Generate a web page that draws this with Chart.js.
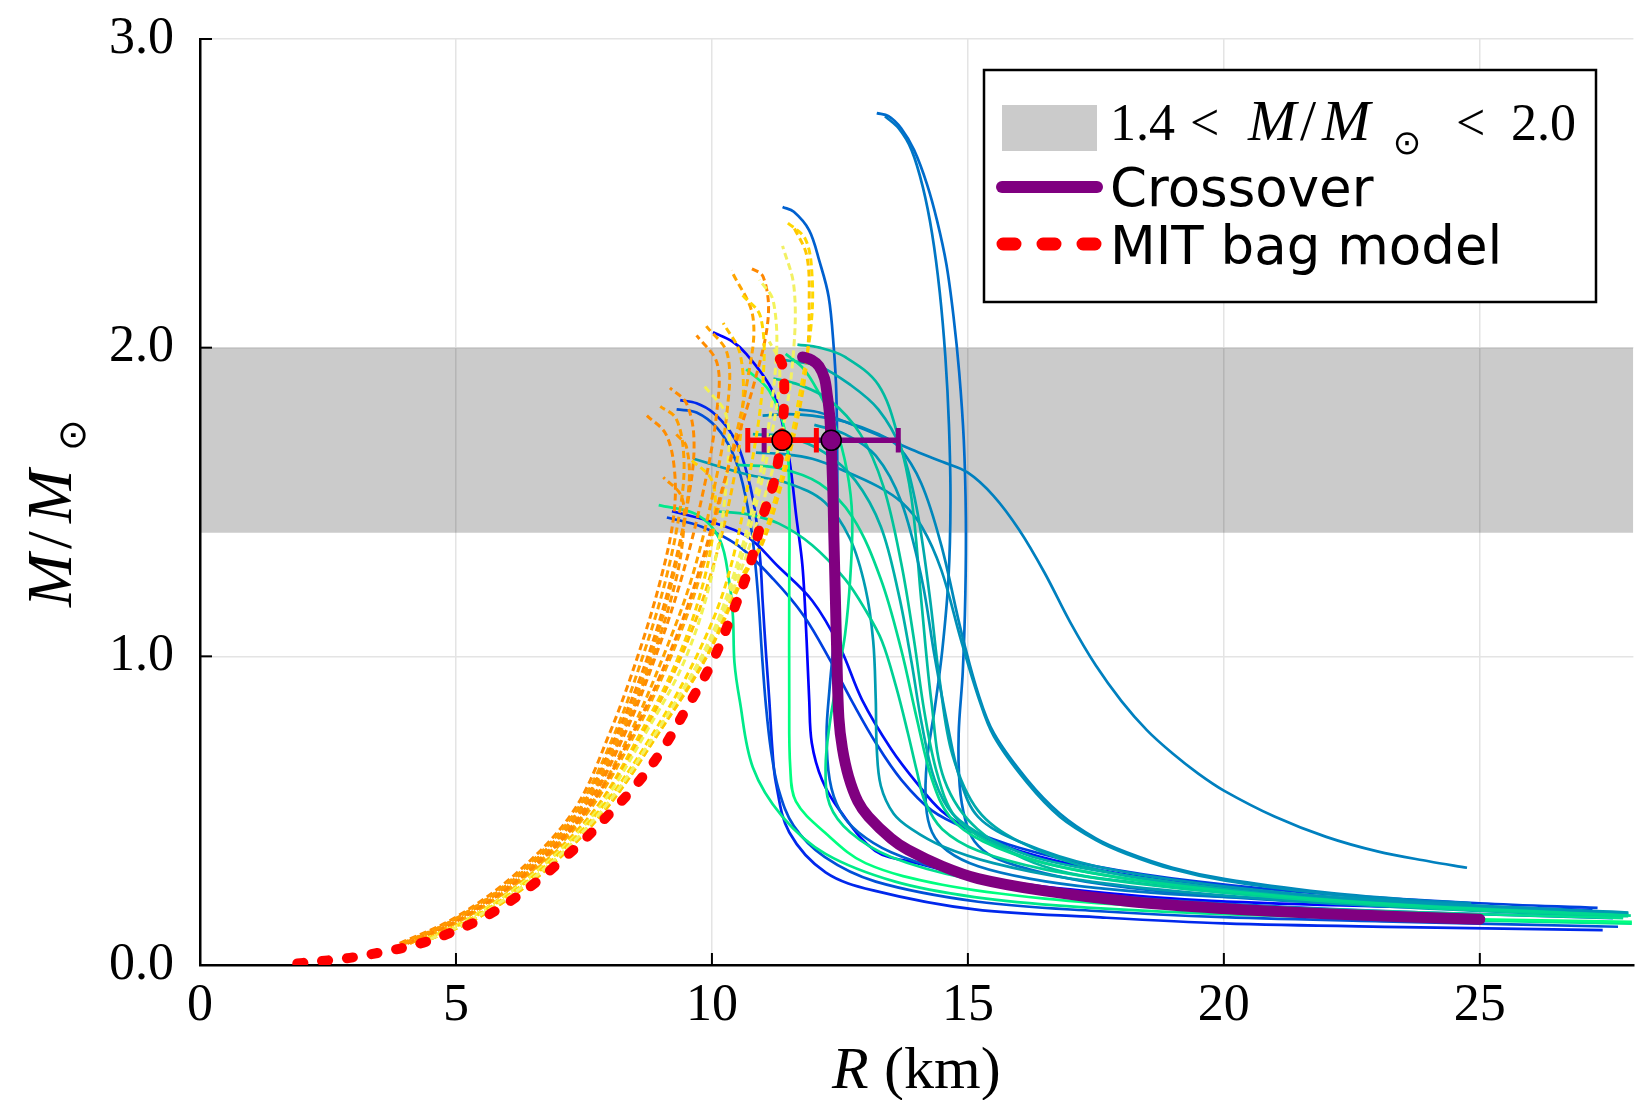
<!DOCTYPE html>
<html>
<head>
<meta charset="utf-8">
<script src="https://cdn.jsdelivr.net/npm/chart.js@4.4.0/dist/chart.umd.min.js"></script>
<style>
  html, body { margin: 0; padding: 0; background: #fff; }
</style>
</head>
<body>
<canvas id="mrChart" width="1645" height="1100"></canvas>
<script>
// axes
const xTicks = [0, 5, 10, 15, 20, 25];
const yTicks = [0, 1, 2, 3];
const yTickLabels = ['0.0', '1.0', '2.0', '3.0'];
const xMax = 28, yMax = 3;

// observational band
const bandLow = 1.4, bandHigh = 2.0;

// measured points [R, M, R error]
const mitPoint = [11.37, 1.70, 0.67];
const crossPoint = [12.33, 1.70, 1.31];

// crossover EoS
const crossover = [[11.77,1.97],[11.95,1.96],[12.09,1.94],[12.2,1.9],[12.25,1.85],[12.3,1.78],[12.32,1.72],[12.36,1.55],[12.38,1.4],[12.41,1.2],[12.44,1.0],[12.48,0.8],[12.55,0.7],[12.67,0.61],[12.85,0.53],[13.06,0.48],[13.5,0.41],[13.83,0.373],[14.5,0.32],[15.2,0.28],[16.5,0.24],[18.2,0.205],[20.0,0.183],[22.0,0.166],[25.0,0.148]];

// MIT bag model
const mitBag = [[1.9,0.005],[2.5,0.015],[3.0,0.025],[3.5,0.04],[4.0,0.057],[4.5,0.08],[5.0,0.112],[5.5,0.15],[6.0,0.2],[6.5,0.26],[7.0,0.33],[7.5,0.405],[8.0,0.49],[8.5,0.58],[9.0,0.69],[9.5,0.83],[10.0,0.98],[10.4,1.14],[10.73,1.29],[10.99,1.45],[11.22,1.57],[11.35,1.7],[11.41,1.83],[11.38,1.94],[11.25,1.98],[11.06,2.0]];

// solid family (blue -> green)
const solid01 = [[10.02,2.05],[10.4,2.02],[10.67,1.98],[11.12,1.88],[11.31,1.8],[11.51,1.64],[11.65,1.45],[11.77,1.29],[11.85,1.05],[11.9,0.86],[11.95,0.72],[12.15,0.6],[12.5,0.5],[13.19,0.37],[14.0,0.33],[15.13,0.286],[17,0.245],[19.5,0.21],[23,0.19],[26.96,0.176]];
const solid02 = [[9.22,1.47],[9.9,1.44],[10.67,1.39],[11.3,1.29],[11.96,1.18],[12.5,1.03],[12.93,0.86],[13.5,0.7],[14.0,0.59],[14.48,0.5],[15.13,0.43],[16.0,0.37],[17.5,0.31],[19.5,0.26],[22,0.22],[25,0.19],[27.2,0.178]];
const solid03 = [[9.38,1.83],[9.7,1.82],[10.02,1.79],[10.35,1.73],[10.54,1.67],[10.75,1.55],[10.86,1.45],[10.95,1.3],[10.99,1.18],[11.06,1.0],[11.12,0.86],[11.18,0.7],[11.25,0.59],[11.51,0.43],[12.22,0.3],[13.19,0.24],[15.13,0.18],[17.5,0.155],[20,0.135],[23.5,0.123],[27.4,0.113]];
const solid04 = [[9.12,1.45],[9.8,1.42],[10.5,1.36],[11.2,1.25],[11.8,1.13],[12.3,0.99],[12.75,0.85],[13.2,0.72],[13.7,0.6],[14.3,0.5],[15.0,0.44],[16.0,0.38],[17.5,0.32],[19.5,0.27],[22,0.23],[25,0.2],[27.3,0.185]];
const solid05 = [[9.31,1.8],[9.7,1.79],[10.1,1.74],[10.4,1.66],[10.6,1.56],[10.78,1.4],[10.9,1.2],[10.98,1.0],[11.05,0.85],[11.15,0.7],[11.3,0.57],[11.6,0.45],[12.2,0.35],[13.2,0.27],[15.2,0.205],[17.5,0.175],[20,0.155],[23.5,0.14],[27.7,0.124]];
const solid06 = [[11.38,2.456],[11.6,2.44],[11.9,2.38],[12.1,2.28],[12.28,2.165],[12.38,2.0],[12.43,1.85],[12.45,1.57],[12.44,1.25],[12.38,1.05],[12.3,0.9],[12.24,0.75],[12.3,0.6],[12.5,0.5],[12.86,0.43],[13.5,0.365],[14.5,0.31],[16,0.26],[18,0.222],[21,0.19],[24,0.17],[27.6,0.152]];
const solid07 = [[13.22,2.76],[13.45,2.75],[13.7,2.71],[13.95,2.64],[14.2,2.53],[14.4,2.41],[14.58,2.27],[14.72,2.1],[14.83,1.92],[14.92,1.7],[14.96,1.45],[14.95,1.2],[14.9,0.95],[14.82,0.75],[14.84,0.58],[14.95,0.47],[15.13,0.4],[15.5,0.35],[16.2,0.31],[17.3,0.27],[19,0.235],[21,0.21],[23.5,0.192],[26.9,0.175]];
const solid08 = [[13.38,2.75],[13.65,2.71],[13.9,2.64],[14.12,2.52],[14.3,2.37],[14.45,2.18],[14.56,1.97],[14.63,1.75],[14.66,1.5],[14.62,1.25],[14.5,1.02],[14.36,0.84],[14.2,0.66],[14.18,0.52],[14.3,0.43],[14.6,0.37],[15.2,0.32],[16.2,0.28],[17.5,0.25],[19.5,0.225],[22,0.21],[24.83,0.197]];
const solid09 = [[11.7,1.8],[12.1,1.79],[12.6,1.76],[13.2,1.72],[13.9,1.67],[14.5,1.63],[15.0,1.595],[15.5,1.52],[16.0,1.41],[16.5,1.27],[17.0,1.11],[17.5,0.97],[18.0,0.855],[18.5,0.76],[19.0,0.685],[19.5,0.62],[20.0,0.565],[21.0,0.48],[22.0,0.415],[23.0,0.368],[24.0,0.336],[24.75,0.315]];
const solid10 = [[10.99,1.78],[11.5,1.785],[11.96,1.78],[12.6,1.76],[13.25,1.72],[13.64,1.68],[14.09,1.56],[14.48,1.36],[14.87,1.08],[15.2,0.88],[15.51,0.75],[16.16,0.6],[16.8,0.49],[17.5,0.41],[18.1,0.365],[19,0.315],[20.03,0.278],[21.97,0.235],[23.5,0.213],[24.83,0.2]];
const solid11 = [[10.86,1.66],[11.4,1.655],[11.96,1.64],[12.6,1.6],[13.25,1.55],[13.7,1.5],[14.1,1.42],[14.48,1.28],[14.87,1.05],[15.2,0.87],[15.51,0.74],[16.16,0.59],[16.8,0.48],[17.5,0.405],[18.1,0.36],[19,0.31],[20.03,0.273],[21.97,0.231],[23.5,0.209],[24.83,0.196]];
const solid12 = [[9.64,1.64],[10.67,1.59],[11.5,1.56],[12.2,1.5],[12.7,1.38],[13.0,1.22],[13.15,1.05],[13.2,0.86],[13.22,0.7],[13.3,0.58],[13.55,0.49],[13.9,0.44],[14.5,0.385],[15.5,0.33],[17,0.28],[19,0.24],[22,0.2],[25,0.175],[27.8,0.155]];
const solid13 = [[11.41,1.96],[12.09,1.94],[12.7,1.88],[13.25,1.8],[13.7,1.67],[14.0,1.48],[14.25,1.2],[14.45,0.92],[14.7,0.68],[15.2,0.5],[16.0,0.4],[17.5,0.31],[20,0.245],[23,0.2],[27.9,0.165]];
const solid14 = [[11.67,2.01],[12.1,2.0],[12.6,1.97],[13.25,1.88],[13.64,1.71],[13.9,1.51],[14.09,1.18],[14.29,0.85],[14.54,0.6],[15.19,0.44],[16.48,0.32],[18.4,0.264],[21,0.22],[24,0.19],[27.8,0.16]];
const solid15 = [[10.09,1.47],[10.7,1.46],[11.31,1.43],[11.96,1.36],[12.6,1.25],[13.0,1.15],[13.32,1.05],[13.6,0.9],[13.83,0.75],[14.0,0.63],[14.16,0.53],[14.5,0.44],[15.2,0.37],[16.5,0.31],[18.5,0.26],[21,0.22],[24,0.185],[27.9,0.158]];
const solid16 = [[11.44,1.98],[11.8,1.93],[12.1,1.85],[12.4,1.75],[12.64,1.6],[12.74,1.45],[12.7,1.25],[12.6,1.07],[12.45,0.93],[12.3,0.78],[12.22,0.64],[12.3,0.52],[12.7,0.43],[13.5,0.35],[15,0.28],[17,0.235],[19.5,0.2],[23,0.175],[27.8,0.152]];
const solid17 = [[8.96,1.49],[9.7,1.46],[10.15,1.38],[10.34,1.24],[10.41,1.13],[10.44,0.98],[10.54,0.86],[10.8,0.64],[11.38,0.48],[12.22,0.36],[13.58,0.27],[15.13,0.22],[17,0.19],[20,0.165],[24,0.148],[27.97,0.134]];
const solid18 = [[10.67,1.93],[11.12,1.86],[11.44,1.72],[11.51,1.51],[11.51,1.2],[11.51,0.86],[11.53,0.64],[11.64,0.53],[12.2,0.43],[13.0,0.33],[14.5,0.26],[16.5,0.215],[19,0.185],[22,0.162],[25,0.148],[27.97,0.14]];
const solid19 = [[11.2,1.9],[11.7,1.88],[12.3,1.83],[12.9,1.72],[13.35,1.55],[13.7,1.3],[13.95,1.05],[14.15,0.82],[14.4,0.62],[14.75,0.48],[15.4,0.4],[16.5,0.33],[18.5,0.27],[21,0.225],[24,0.19],[27.9,0.162]];
const solid20 = [[10.8,1.72],[11.5,1.71],[12.2,1.66],[12.8,1.57],[13.3,1.42],[13.65,1.2],[13.9,0.98],[14.1,0.78],[14.35,0.6],[14.7,0.49],[15.4,0.41],[16.5,0.34],[18.5,0.28],[21,0.23],[24,0.195],[27.9,0.168]];
const solid21 = [[10.5,1.62],[11.3,1.61],[12.1,1.56],[12.75,1.45],[13.3,1.25],[13.7,1.02],[14.0,0.8],[14.3,0.6],[14.65,0.48],[15.3,0.4],[16.5,0.33],[18.5,0.27],[21,0.225],[24,0.19],[27.95,0.16]];
const solid22 = [[12.0,1.75],[12.6,1.72],[13.2,1.65],[13.7,1.5],[14.1,1.25],[14.35,1.0],[14.6,0.78],[14.85,0.6],[15.2,0.48],[16,0.4],[17.5,0.32],[20,0.255],[23,0.21],[27.9,0.17]];
const solidCurves = [solid01, solid02, solid03, solid04, solid05, solid06, solid07, solid08, solid09, solid10, solid11,
                     solid12, solid13, solid14, solid15, solid16, solid17, solid18, solid19, solid20, solid21, solid22];
const solidColors = ['#0000ff', '#0010f8', '#0028ec', '#0040e0', '#0050d8', '#0060cf', '#006ccb', '#0076c5', '#0080bf', '#0088bb', '#0090b8',
                     '#009cb1', '#00aaab', '#00bba0', '#00d094', '#00e08f', '#00ea8a', '#00ff80', '#00c49a', '#00b0a8', '#00d890', '#0098b4'];

// dotted family (orange -> yellow)
const dotted01 = [[3.9,0.07],[5.0,0.155],[6.2,0.3],[7.3,0.5],[8.0,0.75],[8.55,1.0],[9.0,1.25],[9.25,1.45],[9.27,1.6],[9.1,1.72],[8.73,1.78]];
const dotted02 = [[3.95,0.07],[5.05,0.155],[6.25,0.3],[7.35,0.5],[8.1,0.75],[8.65,1.0],[9.1,1.25],[9.4,1.5],[9.45,1.65],[9.3,1.77],[8.99,1.81]];
const dotted03 = [[4.0,0.07],[5.1,0.155],[6.3,0.3],[7.4,0.5],[8.15,0.75],[8.75,1.0],[9.2,1.25],[9.55,1.52],[9.65,1.7],[9.5,1.82],[9.18,1.87]];
const dotted04 = [[4.0,0.07],[5.1,0.155],[6.3,0.3],[7.45,0.5],[8.25,0.75],[8.85,1.0],[9.3,1.25],[9.45,1.42],[9.4,1.52],[9.05,1.58]];
const dotted05 = [[4.2,0.07],[5.3,0.155],[6.55,0.3],[7.7,0.5],[8.6,0.75],[9.35,1.0],[9.85,1.25],[10.05,1.45],[10.0,1.57],[9.57,1.64]];
const dotted06 = [[4.05,0.07],[5.15,0.155],[6.35,0.3],[7.5,0.5],[8.3,0.75],[8.9,1.0],[9.4,1.25],[9.85,1.55],[10.1,1.8],[10.1,1.95],[9.7,2.04]];
const dotted07 = [[4.1,0.07],[5.2,0.155],[6.4,0.3],[7.55,0.5],[8.4,0.75],[9.05,1.0],[9.6,1.25],[10.05,1.55],[10.3,1.8],[10.3,1.98],[9.89,2.07]];
const dotted08 = [[4.2,0.07],[5.3,0.155],[6.5,0.3],[7.7,0.5],[8.65,0.75],[9.4,1.0],[9.95,1.25],[10.4,1.55],[10.6,1.8],[10.55,1.98],[10.22,2.08]];
const dotted09 = [[4.2,0.07],[5.3,0.155],[6.55,0.3],[7.75,0.5],[8.7,0.75],[9.5,1.0],[10.05,1.3],[10.3,1.6],[10.28,1.78],[9.83,1.88]];
const dotted10 = [[4.1,0.07],[5.2,0.155],[6.45,0.3],[7.6,0.5],[8.5,0.75],[9.2,1.0],[9.75,1.25],[10.3,1.6],[10.7,1.9],[10.8,2.1],[10.38,2.25]];
const dotted11 = [[4.05,0.07],[5.15,0.155],[6.4,0.3],[7.55,0.5],[8.45,0.75],[9.15,1.0],[9.7,1.25],[10.3,1.6],[10.85,1.9],[11.1,2.1],[11.0,2.23],[10.73,2.26]];
const dotted12 = [[4.25,0.07],[5.35,0.155],[6.6,0.3],[7.8,0.5],[8.85,0.75],[9.7,1.0],[10.3,1.25],[10.75,1.6],[11.0,1.9],[10.95,2.1],[10.6,2.17]];
const dotted13 = [[4.3,0.07],[5.4,0.155],[6.65,0.3],[7.85,0.5],[8.9,0.75],[9.8,1.0],[10.4,1.25],[10.95,1.6],[11.25,1.95],[11.2,2.15],[10.93,2.22]];
const dotted14 = [[4.3,0.07],[5.4,0.155],[6.65,0.3],[7.9,0.5],[8.95,0.75],[9.85,1.0],[10.45,1.25],[10.95,1.55],[11.3,1.85],[11.3,1.96],[11.12,2.02]];
const dotted15 = [[4.3,0.07],[5.45,0.155],[6.7,0.3],[7.9,0.5],[8.95,0.75],[9.9,1.0],[10.55,1.25],[10.93,1.355],[11.25,1.52],[11.51,1.68],[11.77,1.9],[11.93,2.06],[11.96,2.22],[11.83,2.35],[11.44,2.41]];
const dotted16 = [[4.3,0.07],[5.45,0.155],[6.7,0.3],[7.9,0.5],[8.95,0.75],[9.9,1.0],[10.6,1.25],[11.0,1.37],[11.35,1.55],[11.65,1.75],[11.85,1.95],[11.9,2.15],[11.85,2.3],[11.6,2.39]];
const dotted17 = [[4.3,0.07],[5.4,0.155],[6.65,0.3],[7.85,0.5],[8.9,0.75],[9.8,1.0],[10.5,1.25],[11.0,1.5],[11.4,1.75],[11.6,2.0],[11.6,2.2],[11.38,2.33]];
const dotted18 = [[4.0,0.07],[5.05,0.155],[6.3,0.3],[7.4,0.5],[8.2,0.75],[8.8,1.0],[9.3,1.3],[9.55,1.55],[9.5,1.68],[9.3,1.72]];
const dottedCurves = [dotted01, dotted02, dotted03, dotted04, dotted05, dotted06, dotted07, dotted08, dotted09,
                      dotted10, dotted11, dotted12, dotted13, dotted14, dotted15, dotted16, dotted17, dotted18];
const dottedColors = ['#ff8c00', '#ff9e00', '#ff8c00', '#ff9400', '#ffd200', '#ff8c00', '#ffa200', '#ffbf00', '#f2f250',
                      '#ffa500', '#ff8800', '#ffd700', '#f3f35a', '#f0f05a', '#ffd700', '#ffc800', '#f2f064', '#ff9800'];

const PURPLE = '#800080';
const RED = '#ff0000';

const xy = pts => pts.map(p => ({ x: p[0], y: p[1] }));

function curve(pts, color, width, dash, cap) {
  return {
    data: xy(pts),
    showLine: true,
    borderColor: color,
    backgroundColor: color,
    borderWidth: width,
    borderDash: dash || [],
    borderCapStyle: cap || 'butt',
    borderJoinStyle: 'round',
    pointRadius: 0,
    pointHoverRadius: 0,
    tension: 0.35,
    fill: false
  };
}

function marker(p, color) {
  return {
    data: [{ x: p[0], y: p[1] }],
    showLine: false,
    pointRadius: 10,
    pointBackgroundColor: color,
    pointBorderColor: '#000',
    pointBorderWidth: 1.6
  };
}

// error bar: horizontal line plus two caps
function errorBar(p, color) {
  const capH = 0.04;
  const lo = p[0] - p[2], hi = p[0] + p[2];
  return [
    curve([[lo, p[1]], [hi, p[1]]], color, 5.5),
    curve([[lo, p[1] - capH], [lo, p[1] + capH]], color, 5),
    curve([[hi, p[1] - capH], [hi, p[1] + capH]], color, 5)
  ];
}

const datasets = [];
// band
datasets.push({ data: xy([[0, bandLow], [xMax, bandLow]]), showLine: true, borderWidth: 0, pointRadius: 0, fill: false, tension: 0 });
datasets.push({ data: xy([[0, bandHigh], [xMax, bandHigh]]), showLine: true, borderWidth: 0, pointRadius: 0,
                fill: '-1', backgroundColor: 'rgba(0,0,0,0.205)', tension: 0 });
solidCurves.forEach((c, i) => datasets.push(curve(c, solidColors[i], 2.7)));
dottedCurves.forEach((c, i) => datasets.push(curve(c, dottedColors[i], 3, [7, 4])));
datasets.push(curve(crossover, PURPLE, 11, [], 'round'));
datasets.push(curve(mitBag, RED, 10, [6, 19], 'round'));
datasets.push(...errorBar(crossPoint, PURPLE));
datasets.push(...errorBar(mitPoint, RED));
datasets.push(marker(mitPoint, RED));
datasets.push(marker(crossPoint, PURPLE));
// first in list drawn first
datasets.forEach((d, i) => { d.order = datasets.length - i; });

const SERIF = '"Liberation Serif", "Times New Roman", serif';
const SANS = '"DejaVu Sans", sans-serif';

const decorations = {
  id: 'decorations',
  afterDatasetsDraw(chart) {
    const { ctx, scales: { x, y } } = chart;
    ctx.save();
    ctx.strokeStyle = '#000';
    ctx.lineWidth = 2;
    xTicks.forEach(v => {
      const px = x.getPixelForValue(v);
      ctx.beginPath(); ctx.moveTo(px, y.bottom); ctx.lineTo(px, y.bottom - 12); ctx.stroke();
    });
    yTicks.forEach(v => {
      const py = y.getPixelForValue(v);
      ctx.beginPath(); ctx.moveTo(x.left, py); ctx.lineTo(x.left + 12, py); ctx.stroke();
    });
    ctx.restore();
  },
  afterDraw(chart) {
    const ctx = chart.ctx;
    ctx.save();
    ctx.fillStyle = '#000';
    ctx.textBaseline = 'alphabetic';
    ctx.textAlign = 'left';

    // x title
    ctx.font = 'italic 60px ' + SERIF;
    ctx.fillText('R', 832, 1088);
    ctx.font = '60px ' + SERIF;
    ctx.fillText('(km)', 884, 1088);

    // y title
    ctx.save();
    ctx.translate(71, 607);
    ctx.rotate(-Math.PI / 2);
    ctx.font = 'italic 64px ' + SERIF;
    ctx.fillText('M', 0, 0);
    ctx.font = '64px ' + SERIF;
    ctx.fillText('/', 58, 0);
    ctx.font = 'italic 64px ' + SERIF;
    ctx.fillText('M', 84, 0);
    ctx.font = '38px ' + SANS;
    ctx.textAlign = 'center';
    ctx.textBaseline = 'middle';
    ctx.fillText('\u2299', 172, 4);
    ctx.restore();

    // legend
    const bx = 984, by = 70, bw = 612, bh = 232;
    ctx.fillStyle = '#fff';
    ctx.fillRect(bx, by, bw, bh);
    ctx.strokeStyle = '#000';
    ctx.lineWidth = 2.5;
    ctx.strokeRect(bx, by, bw, bh);

    ctx.fillStyle = 'rgba(0,0,0,0.205)';
    ctx.fillRect(1002, 105, 95, 46);

    ctx.lineCap = 'round';
    ctx.strokeStyle = PURPLE;
    ctx.lineWidth = 12;
    ctx.beginPath(); ctx.moveTo(1002, 187); ctx.lineTo(1097, 187); ctx.stroke();

    ctx.strokeStyle = RED;
    ctx.lineWidth = 13;
    ctx.setLineDash([12, 28]);
    ctx.beginPath(); ctx.moveTo(1003, 244); ctx.lineTo(1097, 244); ctx.stroke();
    ctx.setLineDash([]);

    ctx.fillStyle = '#000';
    ctx.font = '52px ' + SERIF;
    ctx.fillText('1.4', 1110, 140);
    ctx.fillText('<', 1190, 140);
    ctx.font = 'italic 58px ' + SERIF;
    ctx.fillText('M', 1248, 140);
    ctx.font = '58px ' + SERIF;
    ctx.fillText('/', 1300, 140);
    ctx.font = 'italic 58px ' + SERIF;
    ctx.fillText('M', 1322, 140);
    ctx.font = '52px ' + SERIF;
    ctx.fillText('<', 1456, 140);
    ctx.fillText('2.0', 1511, 140);
    ctx.font = '34px ' + SANS;
    ctx.textAlign = 'center';
    ctx.textBaseline = 'middle';
    ctx.fillText('\u2299', 1407, 145);

    ctx.textAlign = 'left';
    ctx.textBaseline = 'alphabetic';
    ctx.font = '53px ' + SANS;
    ctx.fillText('Crossover', 1110, 206);
    ctx.fillText('MIT bag model', 1110, 264);
    ctx.restore();
  }
};

new Chart(document.getElementById('mrChart').getContext('2d'), {
  type: 'scatter',
  data: { datasets: datasets },
  options: {
    responsive: false,
    animation: false,
    events: [],
    layout: { padding: { top: 39, right: 0, left: 0, bottom: 0 } },
    plugins: { legend: { display: false }, tooltip: { enabled: false } },
    scales: {
      x: {
        type: 'linear', min: 0, max: xMax,
        afterBuildTicks: s => { s.ticks = xTicks.map(v => ({ value: v })); },
        afterFit: s => { s.height = 135; s.paddingLeft = 0; s.paddingRight = 0; },
        grid: { color: '#e4e4e4', lineWidth: 1.5, drawTicks: false },
        border: { display: true, color: '#000', width: 2.5 },
        ticks: { color: '#000', font: { family: SERIF, size: 52 }, padding: 10, maxRotation: 0, autoSkip: false,
                 callback: v => String(v) }
      },
      y: {
        type: 'linear', min: 0, max: yMax,
        afterBuildTicks: s => { s.ticks = yTicks.map(v => ({ value: v })); },
        afterFit: s => { s.width = 200; s.paddingTop = 0; s.paddingBottom = 0; },
        grid: { color: '#e4e4e4', lineWidth: 1.5, drawTicks: false },
        border: { display: true, color: '#000', width: 2.5 },
        ticks: { color: '#000', font: { family: SERIF, size: 52 }, padding: 26,
                 callback: v => yTickLabels[yTicks.indexOf(v)] }
      }
    }
  },
  plugins: [decorations]
});
</script>
</body>
</html>
